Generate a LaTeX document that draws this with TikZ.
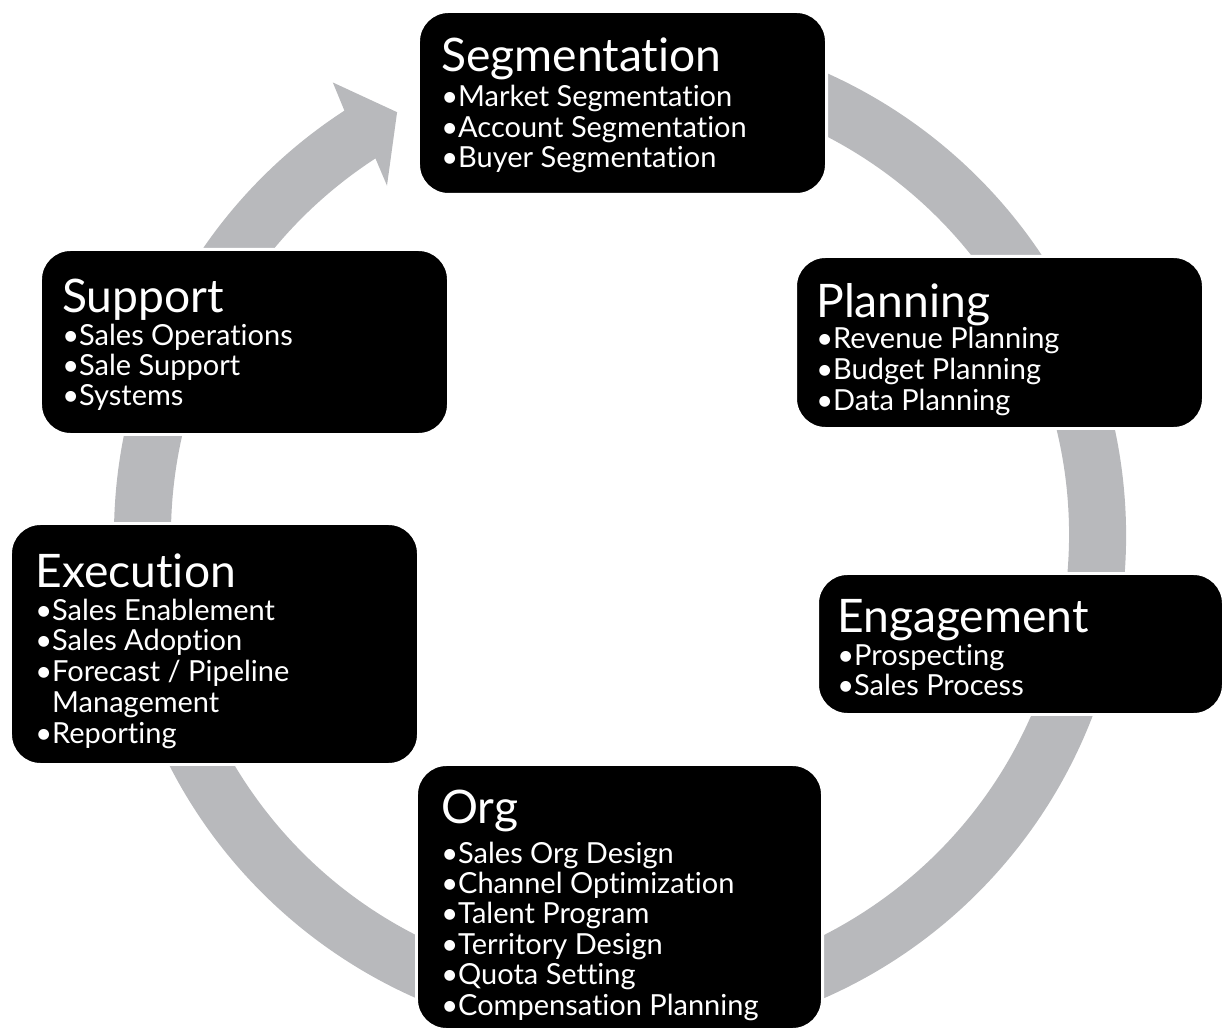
\documentclass[tikz,border=0pt]{standalone}
\usepackage{fontspec}
\setmainfont{Lato}[Ligatures=NoCommon]
\usetikzlibrary{positioning}
\usetikzlibrary{calc}
\definecolor{ringgray}{RGB}{184,185,188}

\begin{document}
\begin{tikzpicture}[x=0.02cm, y=0.02cm]
    \tikzstyle stage=[fill=black, draw=white, line width=1.7pt, rounded corners=0.6cm, anchor=north west, inner sep=0pt]
    \tikzstyle title=[text=white, anchor=base west, inner sep=0pt, font=\fontsize{26.3}{30}\selectfont]
    \tikzstyle item=[text=white, anchor=base west, inner sep=0pt, font=\fontsize{16.5}{19}\selectfont]

    \useasboundingbox (0,0) rectangle (1222,-1030);

    % ring arrow, center (620,-535), radii 449 / 506
    \coordinate (hub) at (620,-535);
    \fill[ringgray] ($(hub)+(100:506)$) arc[start angle=100, end angle=-237, radius=506]
        -- ($(hub)+(-237.6:536)$) -- ($(hub)+(-242.2:478)$) -- ($(hub)+(-236.3:420)$)
        -- ($(hub)+(-237:449)$) arc[start angle=-237, end angle=100, radius=449] -- cycle;

    % boxes (north west corner, width, height)
    \node[stage, minimum width=408*0.02cm, minimum height=183*0.02cm] (seg)  at (417,-10)  {};
    \node[stage, minimum width=408*0.02cm, minimum height=172*0.02cm] (plan) at (794,-255) {};
    \node[stage, minimum width=406*0.02cm, minimum height=141*0.02cm] (eng)  at (816,-572) {};
    \node[stage, minimum width=406*0.02cm, minimum height=265*0.02cm] (org)  at (415,-763) {};
    \node[stage, minimum width=408*0.02cm, minimum height=241*0.02cm] (exe)  at (9,-522)   {};
    \node[stage, minimum width=408*0.02cm, minimum height=185*0.02cm] (sup)  at (39,-248)  {};

    % Segmentation
    \node[title] (seg-title) at (441,-72) {Segmentation};
    \foreach \t [count=\i] in {Market Segmentation, Account Segmentation, Buyer Segmentation}
        \node[item] (seg-\i) at (441,{-107-30.2*(\i-1)}) {•\t};

    % Planning
    \node[title] (plan-title) at (816,-317) {Planning};
    \foreach \t [count=\i] in {Revenue Planning, Budget Planning, Data Planning}
        \node[item] (plan-\i) at (816,{-348-31*(\i-1)}) {•\t};

    % Engagement
    \node[title] (eng-title) at (837,-632) {Engagement};
    \foreach \t [count=\i] in {Prospecting, Sales Process}
        \node[item] (eng-\i) at (837,{-665-30*(\i-1)}) {•\t};

    % Org
    \node[title] (org-title) at (441,-823) {Org};
    \foreach \t [count=\i] in {Sales Org Design, Channel Optimization, Talent Program, Territory Design, Quota Setting, Compensation Planning}
        \node[item] (org-\i) at (441,{-863-30.4*(\i-1)}) {•\t};

    % Execution
    \node[title] (exe-title) at (35,-587) {Execution};
    \foreach \t [count=\i] in {•Sales Enablement, •Sales Adoption, •Forecast / Pipeline, \phantom{•}Management, •Reporting}
        \node[item] (exe-\i) at (35,{-620-30.75*(\i-1)}) {\t};

    % Support
    \node[title] (sup-title) at (62,-312) {Support};
    \foreach \t [count=\i] in {Sales Operations, Sale Support, Systems}
        \node[item] (sup-\i) at (62,{-345-30*(\i-1)}) {•\t};
\end{tikzpicture}
\end{document}
